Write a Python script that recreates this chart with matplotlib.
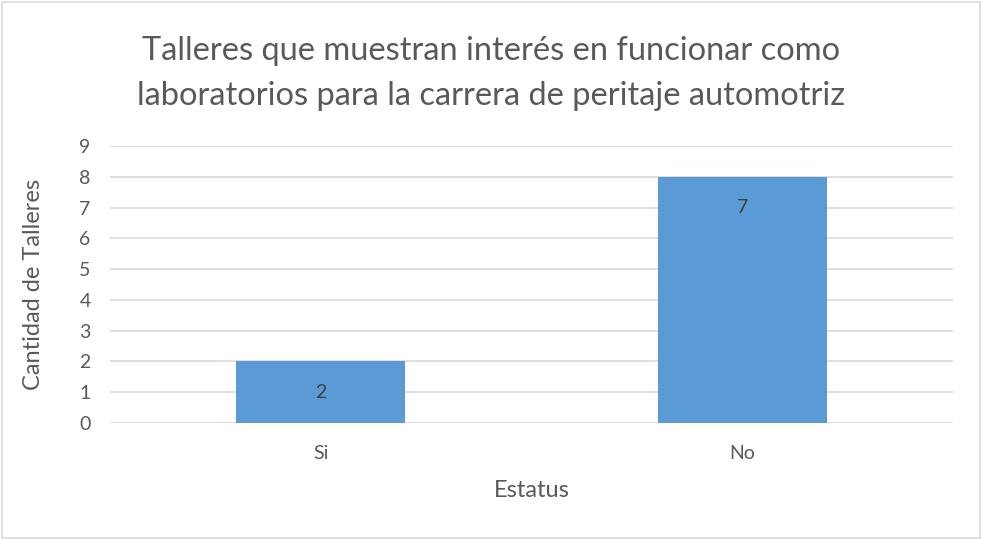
import matplotlib.pyplot as plt
from matplotlib.patches import Rectangle

# data
categories = ['Si', 'No']
bar_heights = [2, 8]
bar_labels = ['2', '7']   # labels as printed on the original chart
y_ticks = list(range(0, 10))

plt.rcParams['font.family'] = ['Lato', 'DejaVu Sans']
text_col = '#595959'

fig = plt.figure(figsize=(9.82, 5.39), dpi=100)
ax = fig.add_axes([0.112, 0.2152, 0.8585, 0.5138])

x = list(range(len(categories)))
bars = ax.bar(x, bar_heights, width=0.4, color='#5B9BD5', zorder=3)

for b, lab in zip(bars, bar_labels):
    ax.annotate(lab, (b.get_x() + b.get_width() / 2, b.get_height()),
                xytext=(0, -22), textcoords='offset points',
                ha='center', va='center', fontsize=14, color='#404040')

ax.set_xlim(-0.5, len(categories) - 0.5)
ax.set_ylim(0, 9)
ax.set_yticks(y_ticks)
ax.set_xticks(x)
ax.set_xticklabels(categories)
ax.tick_params(axis='both', length=0, labelsize=14, colors=text_col)
ax.tick_params(axis='y', pad=14)
ax.tick_params(axis='x', pad=16)
ax.grid(axis='y', color='#D9D9D9', linewidth=1.2, zorder=0)
for s in ax.spines.values():
    s.set_visible(False)

ax.set_ylabel('Cantidad de Talleres', fontsize=17, color=text_col)
ax.yaxis.set_label_coords(-0.078, 0.5)
ax.set_xlabel('Estatus', fontsize=17, color=text_col)
ax.xaxis.set_label_coords(0.5, -0.205)

fig.text(0.5, 0.8636,
         'Talleres que muestran interés en funcionar como\n'
         'laboratorios para la carrera de peritaje automotriz',
         ha='center', va='center', fontsize=23.5, color=text_col, linespacing=1.6)

# light border around the whole chart
fig.patches.append(Rectangle((0.002, 0.002), 0.996, 0.994, transform=fig.transFigure,
                             fill=False, edgecolor='#D9D9D9', linewidth=1.2))

fig.savefig('out.png', dpi=100)
